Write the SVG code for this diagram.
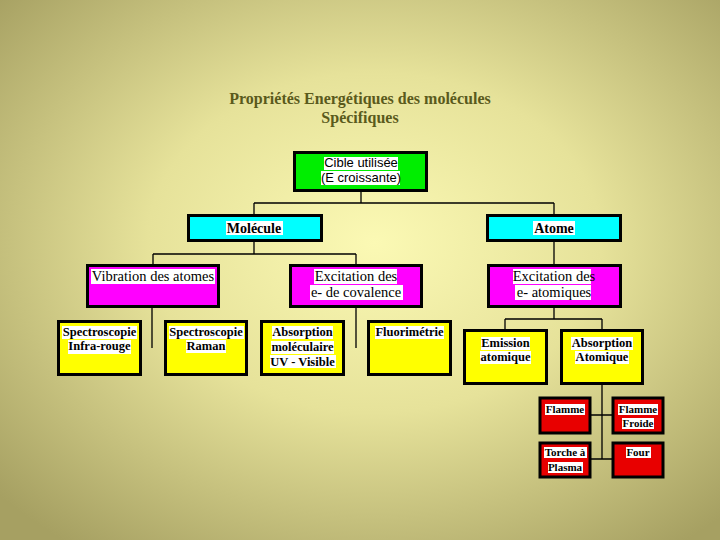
<svg xmlns="http://www.w3.org/2000/svg" width="720" height="540" viewBox="0 0 720 540">
<defs>
<radialGradient id="bg" cx="52%" cy="45%" r="70%">
<stop offset="0" stop-color="#fbf9b4"/>
<stop offset="0.45" stop-color="#e6e29a"/>
<stop offset="1" stop-color="#a6a062"/>
</radialGradient>
<style>
.box{stroke:#000;stroke-width:3}
.g{fill:#00ee00}.c{fill:#00ffff}.m{fill:#ff00ff}.y{fill:#ffff00}.r{fill:#e80000}
.hl{fill:#fff}
.title{font-family:"Liberation Serif",serif;font-weight:bold;font-size:16px;fill:#5a5a1c;text-anchor:middle}
.sans{font-family:"Liberation Sans",Arial,sans-serif;font-size:13px;fill:#000;text-anchor:middle}
.sb{font-family:"Liberation Serif",serif;font-weight:bold;font-size:14px;fill:#000;text-anchor:middle}
.sr{font-family:"Liberation Serif",serif;font-size:14.5px;fill:#000;text-anchor:middle}
.yb{font-family:"Liberation Serif",serif;font-weight:bold;font-size:12.5px;fill:#000;text-anchor:middle}
.rb{font-family:"Liberation Serif",serif;font-weight:bold;font-size:11px;fill:#000;text-anchor:middle}
.conn{stroke:#000;stroke-width:1.3;fill:none}
</style>
</defs>
<rect width="720" height="540" fill="url(#bg)"/>

<g id="title">
<text class="title" x="360" y="104">Propriétés Energétiques des molécules</text>
<text class="title" x="360" y="123">Spécifiques</text>
</g>

<g id="connectors">
<path class="conn" d="M361 192V203M254 203H554M254 203V215M554 203V215"/>
<path class="conn" d="M254 242V254M153 254H356M153 254V265M356 254V265"/>
<path class="conn" d="M554 242V265"/>
<path class="conn" d="M152 308V348M356 308V348"/>
<path class="conn" d="M554 308V319M505 319H602M505 319V330M602 319V330"/>
<path class="conn" d="M602 384V459M591 415H612M591 459H612"/>
</g>

<g id="cible">
<rect class="box g" x="294.5" y="152.5" width="132" height="38"/>
<rect class="hl" x="324" y="157" width="74" height="13"/>
<rect class="hl" x="321" y="171" width="79" height="14"/>
<text class="sans" x="361" y="167">Cible utilisée</text>
<text class="sans" x="361" y="182">(E croissante)</text>
</g>

<g id="molecule">
<rect class="box c" x="188.5" y="215.5" width="133" height="25"/>
<rect class="hl" x="226" y="221" width="57" height="14"/>
<text class="sb" x="254" y="233">Molécule</text>
</g>

<g id="atome">
<rect class="box c" x="487.5" y="215.5" width="133" height="25"/>
<rect class="hl" x="533" y="221" width="42" height="14"/>
<text class="sb" x="554" y="233">Atome</text>
</g>

<g id="vibration">
<rect class="box m" x="87.5" y="265.5" width="131" height="41"/>
<rect class="hl" x="91" y="269" width="124" height="15"/>
<text class="sr" x="153" y="281">Vibration des atomes</text>
</g>

<g id="excitation-covalence">
<rect class="box m" x="290.5" y="265.5" width="131" height="41"/>
<rect class="hl" x="314" y="269" width="83" height="15"/>
<rect class="hl" x="310" y="285" width="93" height="15"/>
<text class="sr" x="356" y="281">Excitation des</text>
<text class="sr" x="356" y="297">e- de covalence</text>
</g>

<g id="excitation-atomique">
<rect class="box m" x="488.5" y="265.5" width="132" height="41"/>
<rect class="hl" x="513" y="269" width="78" height="15"/>
<rect class="hl" x="515" y="285" width="76" height="15"/>
<text class="sr" x="554" y="281">Excitation des</text>
<text class="sr" x="554" y="297">e- atomiques</text>
</g>

<g id="spectro-ir">
<rect class="box y" x="58.5" y="321.5" width="82" height="53"/>
<rect class="hl" x="62" y="326" width="75" height="13"/>
<rect class="hl" x="68" y="340" width="63" height="14"/>
<text class="yb" x="99.5" y="336">Spectroscopie</text>
<text class="yb" x="99.5" y="350">Infra-rouge</text>
</g>

<g id="spectro-raman">
<rect class="box y" x="165.5" y="321.5" width="81" height="53"/>
<rect class="hl" x="169" y="326" width="75" height="13"/>
<rect class="hl" x="186" y="340" width="40" height="13"/>
<text class="yb" x="206" y="336">Spectroscopie</text>
<text class="yb" x="206" y="350">Raman</text>
</g>

<g id="absorption-mol">
<rect class="box y" x="261.5" y="321.5" width="82" height="53"/>
<rect class="hl" x="272" y="326" width="61" height="13"/>
<rect class="hl" x="271" y="341" width="63" height="13"/>
<rect class="hl" x="270" y="355" width="66" height="13"/>
<text class="yb" x="302.5" y="336">Absorption</text>
<text class="yb" x="302.5" y="351">moléculaire</text>
<text class="yb" x="302.5" y="366">UV - Visible</text>
</g>

<g id="fluorimetrie">
<rect class="box y" x="368.5" y="321.5" width="82" height="53"/>
<rect class="hl" x="375" y="326" width="69" height="13"/>
<text class="yb" x="409.5" y="336">Fluorimétrie</text>
</g>

<g id="emission">
<rect class="box y" x="464.5" y="330.5" width="82" height="53"/>
<rect class="hl" x="481" y="337" width="49" height="13"/>
<rect class="hl" x="480" y="351" width="51" height="13"/>
<text class="yb" x="505.5" y="347">Emission</text>
<text class="yb" x="505.5" y="361">atomique</text>
</g>

<g id="absorption-atom">
<rect class="box y" x="561.5" y="330.5" width="81" height="53"/>
<rect class="hl" x="571" y="337" width="62" height="13"/>
<rect class="hl" x="575" y="351" width="54" height="13"/>
<text class="yb" x="602" y="347">Absorption</text>
<text class="yb" x="602" y="361">Atomique</text>
</g>

<g id="flamme">
<rect class="box r" x="540" y="398" width="50" height="35"/>
<rect class="hl" x="545" y="404" width="40" height="11"/>
<text class="rb" x="565" y="413">Flamme</text>
</g>

<g id="flamme-froide">
<rect class="box r" x="613" y="398" width="50" height="35"/>
<rect class="hl" x="618" y="404" width="40" height="11"/>
<rect class="hl" x="622" y="418" width="32" height="11"/>
<text class="rb" x="638" y="413">Flamme</text>
<text class="rb" x="638" y="427">Froide</text>
</g>

<g id="torche">
<rect class="box r" x="540" y="443" width="50" height="34"/>
<rect class="hl" x="544" y="447" width="43" height="11"/>
<rect class="hl" x="548" y="462" width="35" height="11"/>
<text class="rb" x="565" y="456">Torche à</text>
<text class="rb" x="565" y="471">Plasma</text>
</g>

<g id="four">
<rect class="box r" x="613" y="443" width="50" height="34"/>
<rect class="hl" x="626" y="447" width="25" height="11"/>
<text class="rb" x="638" y="456">Four</text>
</g>
</svg>
